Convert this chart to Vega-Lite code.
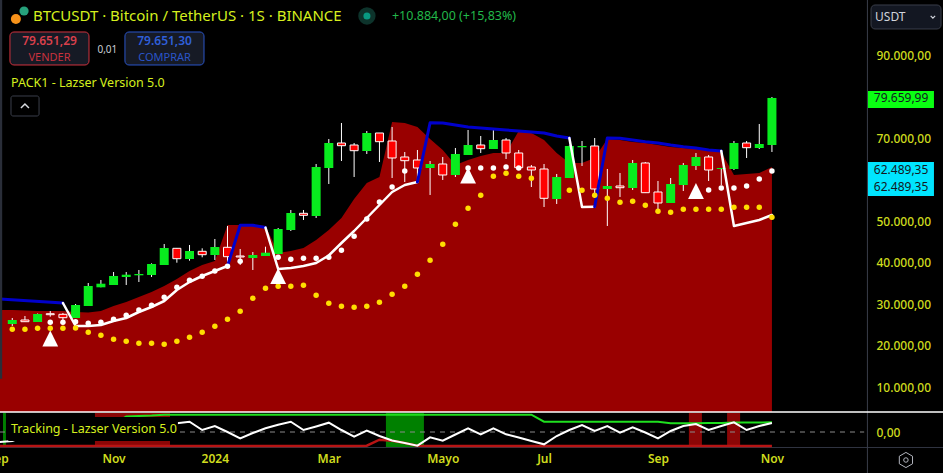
{
"$schema":"https://vega.github.io/schema/vega-lite/v6.json",
"width":943,"height":473,"padding":0,"autosize":{"type":"none"},"background":"#000000",
"config":{"view":{"stroke":null},"font":"Noto Sans"},
"datasets":{
"candles":[
{"date":"2023-09-11","open":25185,"high":26631,"low":24703,"close":26149},
{"date":"2023-09-18","open":26149,"high":27113,"low":25739,"close":25739},
{"date":"2023-09-25","open":25667,"high":27715,"low":25667,"close":27595},
{"date":"2023-10-02","open":27666,"high":28318,"low":26944,"close":27426},
{"date":"2023-10-09","open":27522,"high":27836,"low":26149,"close":26703},
{"date":"2023-10-16","open":26631,"high":30005,"low":26631,"close":29764},
{"date":"2023-10-23","open":29523,"high":35066,"low":29523,"close":34343},
{"date":"2023-10-30","open":34029,"high":35789,"low":34029,"close":34897},
{"date":"2023-11-06","open":34584,"high":37717,"low":34584,"close":36753},
{"date":"2023-11-13","open":36512,"high":37717,"low":34584,"close":37066},
{"date":"2023-11-20","open":36921,"high":38199,"low":35307,"close":37235},
{"date":"2023-11-27","open":36994,"high":39813,"low":36512,"close":39645},
{"date":"2023-12-04","open":39404,"high":44465,"low":39404,"close":43501},
{"date":"2023-12-11","open":43428,"high":43501,"low":39958,"close":40922},
{"date":"2023-12-18","open":40850,"high":44224,"low":40440,"close":42778},
{"date":"2023-12-25","open":42705,"high":43428,"low":41259,"close":41886},
{"date":"2024-01-01","open":41814,"high":45670,"low":40609,"close":43742},
{"date":"2024-01-08","open":43669,"high":48803,"low":39404,"close":41404},
{"date":"2024-01-15","open":41573,"high":43260,"low":39404,"close":41332},
{"date":"2024-01-22","open":41091,"high":42537,"low":38199,"close":41814},
{"date":"2024-01-29","open":41573,"high":43814,"low":41573,"close":42368},
{"date":"2024-02-05","open":42055,"high":48321,"low":42055,"close":48080},
{"date":"2024-02-12","open":47839,"high":52659,"low":47598,"close":51936},
{"date":"2024-02-19","open":51863,"high":52659,"low":50249,"close":51381},
{"date":"2024-02-26","open":51213,"high":63745,"low":50731,"close":63022},
{"date":"2024-03-04","open":62781,"high":69770,"low":58925,"close":68806},
{"date":"2024-03-11","open":68806,"high":73626,"low":64468,"close":68155},
{"date":"2024-03-18","open":68324,"high":68806,"low":60612,"close":66950},
{"date":"2024-03-25","open":66878,"high":71698,"low":66155,"close":71216},
{"date":"2024-04-01","open":71216,"high":71216,"low":64227,"close":69119},
{"date":"2024-04-08","open":69288,"high":72662,"low":60371,"close":65191},
{"date":"2024-04-15","open":65432,"high":66637,"low":59407,"close":64540},
{"date":"2024-04-22","open":64709,"high":67119,"low":59166,"close":62781},
{"date":"2024-04-29","open":62781,"high":64468,"low":56274,"close":63745},
{"date":"2024-05-06","open":63745,"high":65432,"low":59889,"close":61094},
{"date":"2024-05-13","open":61094,"high":67601,"low":60612,"close":66155},
{"date":"2024-05-20","open":65914,"high":71939,"low":65914,"close":68324},
{"date":"2024-05-27","open":68324,"high":70493,"low":66396,"close":67432},
{"date":"2024-06-03","open":67360,"high":71939,"low":67360,"close":69529},
{"date":"2024-06-10","open":69529,"high":70011,"low":64950,"close":66396},
{"date":"2024-06-17","open":66396,"high":67119,"low":62540,"close":62853},
{"date":"2024-06-24","open":63022,"high":63504,"low":58202,"close":62299},
{"date":"2024-07-01","open":62540,"high":63745,"low":53382,"close":55478},
{"date":"2024-07-08","open":55310,"high":61335,"low":54105,"close":60612},
{"date":"2024-07-15","open":60371,"high":68203,"low":60371,"close":68083},
{"date":"2024-07-22","open":67769,"high":69288,"low":63263,"close":68083},
{"date":"2024-07-29","open":68083,"high":70011,"low":55551,"close":57720},
{"date":"2024-08-05","open":57720,"high":62540,"low":48803,"close":58443},
{"date":"2024-08-12","open":58443,"high":61576,"low":55792,"close":58033},
{"date":"2024-08-19","open":57961,"high":64709,"low":57479,"close":63986},
{"date":"2024-08-26","open":63986,"high":64227,"low":56828,"close":56828},
{"date":"2024-09-02","open":56997,"high":59648,"low":51936,"close":54346},
{"date":"2024-09-09","open":54346,"high":60371,"low":54346,"close":58925},
{"date":"2024-09-16","open":58684,"high":63986,"low":57238,"close":63504},
{"date":"2024-09-23","open":63263,"high":66396,"low":62299,"close":65432},
{"date":"2024-09-30","open":65432,"high":65914,"low":59648,"close":62299},
{"date":"2024-10-07","open":62540,"high":62781,"low":58684,"close":62781},
{"date":"2024-10-14","open":62540,"high":69288,"low":62299,"close":68806},
{"date":"2024-10-21","open":68806,"high":69288,"low":65191,"close":67673},
{"date":"2024-10-28","open":67601,"high":73385,"low":67360,"close":68565},
{"date":"2024-11-04","open":68324,"high":79892,"low":66637,"close":79660}
],
"cloud":[
{"date":"2023-09-04","value":28559},{"date":"2023-09-11","value":28559},{"date":"2023-09-18","value":28438},{"date":"2023-09-25","value":28318},{"date":"2023-10-02","value":28318},{"date":"2023-10-09","value":28318},{"date":"2023-10-16","value":28077},{"date":"2023-10-23","value":27956},{"date":"2023-10-30","value":28318},{"date":"2023-11-06","value":29523},{"date":"2023-11-13","value":30487},{"date":"2023-11-20","value":31692},{"date":"2023-11-27","value":32897},{"date":"2023-12-04","value":34343},{"date":"2023-12-11","value":36030},{"date":"2023-12-18","value":37958},{"date":"2023-12-25","value":39404},{"date":"2024-01-01","value":40368},{"date":"2024-01-08","value":49044},{"date":"2024-01-15","value":49044},{"date":"2024-01-22","value":49044},{"date":"2024-01-29","value":48803},{"date":"2024-02-05","value":42296},{"date":"2024-02-12","value":42778},{"date":"2024-02-19","value":43501},{"date":"2024-02-26","value":45429},{"date":"2024-03-04","value":47839},{"date":"2024-03-11","value":50731},{"date":"2024-03-18","value":55310},{"date":"2024-03-25","value":59166},{"date":"2024-04-01","value":60612},{"date":"2024-04-08","value":73867},{"date":"2024-04-15","value":73626},{"date":"2024-04-22","value":72662},{"date":"2024-04-29","value":69770},{"date":"2024-05-06","value":67119},{"date":"2024-05-13","value":63504},{"date":"2024-05-20","value":64709},{"date":"2024-05-27","value":65673},{"date":"2024-06-03","value":66396},{"date":"2024-06-10","value":66396},{"date":"2024-06-17","value":71698},{"date":"2024-06-24","value":71216},{"date":"2024-07-01","value":69529},{"date":"2024-07-08","value":66396},{"date":"2024-07-15","value":63986},{"date":"2024-07-22","value":63986},{"date":"2024-07-29","value":65191},{"date":"2024-08-05","value":69770},{"date":"2024-08-12","value":69529},{"date":"2024-08-19","value":69047},{"date":"2024-08-26","value":68806},{"date":"2024-09-02","value":68324},{"date":"2024-09-09","value":67842},{"date":"2024-09-16","value":67601},{"date":"2024-09-23","value":67360},{"date":"2024-09-30","value":67119},{"date":"2024-10-07","value":66637},{"date":"2024-10-14","value":61094},{"date":"2024-10-21","value":61335},{"date":"2024-10-28","value":61576},{"date":"2024-11-04","value":63022}
],
"trail":[
{"seg":"b1","trend":"down","date":"2023-09-04","value":31210},{"seg":"b1","trend":"down","date":"2023-10-09","value":30246},
{"seg":"w1","trend":"up","date":"2023-10-09","value":30246},{"seg":"w1","trend":"up","date":"2023-10-16","value":24703},{"seg":"w1","trend":"up","date":"2023-10-23","value":24703},{"seg":"w1","trend":"up","date":"2023-10-30","value":24944},{"seg":"w1","trend":"up","date":"2023-11-06","value":25908},{"seg":"w1","trend":"up","date":"2023-11-13","value":26631},{"seg":"w1","trend":"up","date":"2023-11-20","value":28077},{"seg":"w1","trend":"up","date":"2023-11-27","value":29282},{"seg":"w1","trend":"up","date":"2023-12-04","value":30728},{"seg":"w1","trend":"up","date":"2023-12-11","value":33379},{"seg":"w1","trend":"up","date":"2023-12-18","value":35307},{"seg":"w1","trend":"up","date":"2023-12-25","value":36753},{"seg":"w1","trend":"up","date":"2024-01-01","value":37958},{"seg":"w1","trend":"up","date":"2024-01-08","value":39163},
{"seg":"b2","trend":"down","date":"2024-01-08","value":39163},{"seg":"b2","trend":"down","date":"2024-01-15","value":48971},{"seg":"b2","trend":"down","date":"2024-01-22","value":48971},{"seg":"b2","trend":"down","date":"2024-01-29","value":48417},
{"seg":"w2","trend":"up","date":"2024-01-29","value":48417},{"seg":"w2","trend":"up","date":"2024-02-05","value":38440},{"seg":"w2","trend":"up","date":"2024-02-12","value":38681},{"seg":"w2","trend":"up","date":"2024-02-19","value":39163},{"seg":"w2","trend":"up","date":"2024-02-26","value":39886},{"seg":"w2","trend":"up","date":"2024-03-04","value":41693},{"seg":"w2","trend":"up","date":"2024-03-11","value":44706},{"seg":"w2","trend":"up","date":"2024-03-18","value":47598},{"seg":"w2","trend":"up","date":"2024-03-25","value":50731},{"seg":"w2","trend":"up","date":"2024-04-01","value":53864},{"seg":"w2","trend":"up","date":"2024-04-08","value":56997},{"seg":"w2","trend":"up","date":"2024-04-15","value":58684},{"seg":"w2","trend":"up","date":"2024-04-22","value":59407},
{"seg":"b3","trend":"down","date":"2024-04-22","value":59407},{"seg":"b3","trend":"down","date":"2024-04-29","value":73698},{"seg":"b3","trend":"down","date":"2024-05-06","value":73626},{"seg":"b3","trend":"down","date":"2024-05-13","value":73144},{"seg":"b3","trend":"down","date":"2024-05-20","value":72662},{"seg":"b3","trend":"down","date":"2024-05-27","value":72421},{"seg":"b3","trend":"down","date":"2024-06-03","value":72180},{"seg":"b3","trend":"down","date":"2024-06-10","value":71939},{"seg":"b3","trend":"down","date":"2024-06-17","value":71698},{"seg":"b3","trend":"down","date":"2024-06-24","value":71457},{"seg":"b3","trend":"down","date":"2024-07-01","value":71216},{"seg":"b3","trend":"down","date":"2024-07-08","value":70493},{"seg":"b3","trend":"down","date":"2024-07-15","value":70011},
{"seg":"w3","trend":"up","date":"2024-07-15","value":70011},{"seg":"w3","trend":"up","date":"2024-07-22","value":53382},{"seg":"w3","trend":"up","date":"2024-07-29","value":53454},
{"seg":"b4","trend":"down","date":"2024-07-29","value":53454},{"seg":"b4","trend":"down","date":"2024-08-05","value":70011},{"seg":"b4","trend":"down","date":"2024-08-12","value":69939},{"seg":"b4","trend":"down","date":"2024-08-19","value":69529},{"seg":"b4","trend":"down","date":"2024-08-26","value":69119},{"seg":"b4","trend":"down","date":"2024-09-02","value":68806},{"seg":"b4","trend":"down","date":"2024-09-09","value":68324},{"seg":"b4","trend":"down","date":"2024-09-16","value":67914},{"seg":"b4","trend":"down","date":"2024-09-23","value":67601},{"seg":"b4","trend":"down","date":"2024-09-30","value":67119},{"seg":"b4","trend":"down","date":"2024-10-07","value":66878},
{"seg":"w4","trend":"up","date":"2024-10-07","value":66878},{"seg":"w4","trend":"up","date":"2024-10-14","value":48803},{"seg":"w4","trend":"up","date":"2024-10-21","value":49526},{"seg":"w4","trend":"up","date":"2024-10-28","value":50249},{"seg":"w4","trend":"up","date":"2024-11-04","value":51454}
],
"whiteDots":[
{"date":"2023-10-02","value":25594},{"date":"2023-10-09","value":25594},{"date":"2023-10-16","value":25739},{"date":"2023-10-23","value":25353},{"date":"2023-10-30","value":25594},{"date":"2023-11-06","value":26317},{"date":"2023-11-13","value":27281},{"date":"2023-11-20","value":28559},{"date":"2023-11-27","value":29691},{"date":"2023-12-04","value":31619},{"date":"2023-12-11","value":34029},{"date":"2023-12-18","value":35716},{"date":"2023-12-25","value":36680},{"date":"2024-01-01","value":37958},{"date":"2024-01-08","value":39090},{"date":"2024-01-15","value":40295},{"date":"2024-02-05","value":41259},{"date":"2024-02-12","value":40777},{"date":"2024-02-19","value":41018},{"date":"2024-02-26","value":41018},{"date":"2024-03-04","value":41259},{"date":"2024-03-11","value":42946},{"date":"2024-03-18","value":46320},{"date":"2024-03-25","value":50490},{"date":"2024-04-01","value":54587},{"date":"2024-04-08","value":58202},{"date":"2024-04-15","value":62058},{"date":"2024-05-20","value":62781},{"date":"2024-05-27","value":62781},{"date":"2024-06-03","value":62781},{"date":"2024-06-10","value":63022},{"date":"2024-06-17","value":62781},{"date":"2024-09-30","value":57479},{"date":"2024-10-07","value":57961},{"date":"2024-10-14","value":57961},{"date":"2024-10-21","value":58443},{"date":"2024-10-28","value":60130},{"date":"2024-11-04","value":62058}
],
"yellowDots":[
{"date":"2023-09-11","value":23907},{"date":"2023-09-18","value":23907},{"date":"2023-09-25","value":24148},{"date":"2023-10-02","value":24148},{"date":"2023-10-09","value":24148},{"date":"2023-10-16","value":24221},{"date":"2023-10-23","value":23184},{"date":"2023-10-30","value":22461},{"date":"2023-11-06","value":21497},{"date":"2023-11-13","value":21015},{"date":"2023-11-20","value":20533},{"date":"2023-11-27","value":20533},{"date":"2023-12-04","value":20292},{"date":"2023-12-11","value":21015},{"date":"2023-12-18","value":21979},{"date":"2023-12-25","value":23184},{"date":"2024-01-01","value":24630},{"date":"2024-01-08","value":26317},{"date":"2024-01-15","value":28245},{"date":"2024-01-22","value":31378},{"date":"2024-01-29","value":33788},{"date":"2024-02-05","value":34270},{"date":"2024-02-12","value":34270},{"date":"2024-02-19","value":34511},{"date":"2024-02-26","value":32101},{"date":"2024-03-04","value":30173},{"date":"2024-03-11","value":29450},{"date":"2024-03-18","value":29209},{"date":"2024-03-25","value":29450},{"date":"2024-04-01","value":30414},{"date":"2024-04-08","value":32342},{"date":"2024-04-15","value":34270},{"date":"2024-04-22","value":37162},{"date":"2024-04-29","value":40536},{"date":"2024-05-06","value":44392},{"date":"2024-05-13","value":49212},{"date":"2024-05-20","value":53068},{"date":"2024-05-27","value":56201},{"date":"2024-06-03","value":60780},{"date":"2024-06-10","value":61503},{"date":"2024-06-17","value":60780},{"date":"2024-06-24","value":60298},{"date":"2024-07-15","value":57406},{"date":"2024-07-22","value":57406},{"date":"2024-07-29","value":56201},{"date":"2024-08-05","value":55478},{"date":"2024-08-12","value":54514},{"date":"2024-08-19","value":54755},{"date":"2024-08-26","value":53791},{"date":"2024-09-02","value":52345},{"date":"2024-09-09","value":52104},{"date":"2024-09-16","value":52827},{"date":"2024-09-23","value":52827},{"date":"2024-09-30","value":52827},{"date":"2024-10-07","value":52827},{"date":"2024-10-14","value":53309},{"date":"2024-10-21","value":53309},{"date":"2024-10-28","value":53309},{"date":"2024-11-04","value":50899}
],
"signals":[
{"date":"2023-10-02","value":21690},{"date":"2024-02-05","value":36753},{"date":"2024-05-20","value":60973},{"date":"2024-09-23","value":57238}
],
"tracking":[
{"date":"2023-09-04","white":-50,"red":-70},{"date":"2023-09-11","white":-45,"red":-70},{"date":"2023-09-18","white":-20,"red":-70},{"date":"2023-09-25","white":0,"red":-70},{"date":"2023-10-02","white":10,"red":-70},{"date":"2023-10-09","white":-5,"red":-70},{"date":"2023-10-16","white":-10,"red":-70},{"date":"2023-10-23","white":-5,"red":-70},{"date":"2023-10-30","white":10,"red":-70},{"date":"2023-11-06","white":20,"red":-70,"green":40},{"date":"2023-11-13","white":30,"red":-70,"green":78},{"date":"2023-11-20","white":20,"red":-70,"green":80},{"date":"2023-11-27","white":25,"red":-70,"green":82},{"date":"2023-12-04","white":35,"red":-70,"green":86},{"date":"2023-12-11","white":43.5,"red":-70,"green":86.5},{"date":"2023-12-18","white":51.5,"red":-70,"green":86.5},{"date":"2023-12-25","white":10,"red":-70,"green":86.5},{"date":"2024-01-01","white":30,"red":-70,"green":86.5},{"date":"2024-01-08","white":0,"red":-70,"green":86.5},{"date":"2024-01-15","white":-31.5,"red":-70,"green":86.5},{"date":"2024-01-22","white":-5,"red":-70,"green":86.5},{"date":"2024-01-29","white":18.5,"red":-70,"green":86.5},{"date":"2024-02-05","white":36.5,"red":-70,"green":86.5},{"date":"2024-02-12","white":51.5,"red":-70,"green":86.5},{"date":"2024-02-19","white":10,"red":-70,"green":86.5},{"date":"2024-02-26","white":27.5,"red":-70,"green":86.5},{"date":"2024-03-04","white":46.5,"red":-70,"green":86.5},{"date":"2024-03-11","white":10,"red":-70,"green":86.5},{"date":"2024-03-18","white":-23.5,"red":-70,"green":86.5},{"date":"2024-03-25","white":6.5,"red":-68.5,"green":86.5},{"date":"2024-04-01","white":-20,"red":-38.5,"green":86.5},{"date":"2024-04-08","white":-42.5,"red":-43.5,"green":86.5},{"date":"2024-04-15","white":-55,"red":-55,"green":86.5},{"date":"2024-04-22","white":-68.5,"red":-68.5,"green":86.5},{"date":"2024-04-29","white":-26.5,"red":-70,"green":86.5},{"date":"2024-05-06","white":-43.5,"red":-70,"green":86.5},{"date":"2024-05-13","white":-12.5,"red":-70,"green":86.5},{"date":"2024-05-20","white":18.5,"red":-70,"green":86.5},{"date":"2024-05-27","white":-11.5,"red":-70,"green":86.5},{"date":"2024-06-03","white":18.5,"red":-70,"green":86.5},{"date":"2024-06-10","white":-11.5,"red":-70,"green":86.5},{"date":"2024-06-17","white":-27.5,"red":-70,"green":86.5},{"date":"2024-06-24","white":-45,"red":-70,"green":86.5},{"date":"2024-07-01","white":-61.5,"red":-70,"green":51.5},{"date":"2024-07-08","white":-20,"red":-70,"green":51.5},{"date":"2024-07-15","white":10,"red":-70,"green":51.5},{"date":"2024-07-22","white":35,"red":-70,"green":51.5},{"date":"2024-07-29","white":5,"red":-70,"green":51.5},{"date":"2024-08-05","white":30,"red":-70,"green":51.5},{"date":"2024-08-12","white":-3.5,"red":-70,"green":51.5},{"date":"2024-08-19","white":23.5,"red":-70,"green":51.5},{"date":"2024-08-26","white":-2.5,"red":-70,"green":51.5},{"date":"2024-09-02","white":-31.5,"red":-70,"green":51.5},{"date":"2024-09-09","white":5,"red":-70,"green":43.5},{"date":"2024-09-16","white":30,"red":-70,"green":43.5},{"date":"2024-09-23","white":40,"red":-70,"green":43.5},{"date":"2024-09-30","white":10,"red":-70,"green":45},{"date":"2024-10-07","white":30,"red":-70,"green":45},{"date":"2024-10-14","white":48.5,"red":-70,"green":47},{"date":"2024-10-21","white":10,"red":-70,"green":47},{"date":"2024-10-28","white":30,"red":-70,"green":47},{"date":"2024-11-04","white":45,"red":-70,"green":48.5}
],
"greenZones":[{"date":"2023-09-05T21:00:00Z","date2":"2023-09-07T12:00:00Z"},{"date":"2024-04-04T14:00:00Z","date2":"2024-04-25T14:00:00Z"}],
"redZones":[{"date":"2023-10-26T17:00:00Z","date2":"2023-12-07T05:00:00Z"},{"date":"2024-09-19T02:00:00Z","date2":"2024-09-26T07:00:00Z"},{"date":"2024-10-10T05:00:00Z","date2":"2024-10-17T10:00:00Z"}]
},
"encoding":{"x":{"field":"date","type":"temporal","title":null,
"scale":{"domain":["2023-09-03T00:00:00Z","2025-02-06T14:00:00Z"],"range":[-2.19,943],"padding":0},
"axis":{"orient":"bottom","offset":-26,"title":null,"grid":false,"ticks":false,"domain":true,"domainColor":"#2f3340","labelColor":"#cfdc1e","labelFont":"Noto Sans","labelFontSize":12,"labelFontWeight":600,"labelPadding":6,"labelOverlap":false,"labelFlush":false,"labelBound":false,"values":["2023-09-03T00:00:00Z","2023-11-06T00:00:00Z","2024-01-01T00:00:00Z","2024-03-04T00:00:00Z","2024-05-06T00:00:00Z","2024-07-01T00:00:00Z","2024-09-02T00:00:00Z","2024-11-04T00:00:00Z"],"labelExpr":"{'8':'Sep','10':'Nov','0':'2024','2':'Mar','4':'Mayo','6':'Jul'}[utcmonth(datum.value)]"}}},
"layer":[
{"layer":[
{"data":{"name":"cloud"},"mark":{"type":"area","color":"#990000","interpolate":"linear"},
 "encoding":{"y":{"field":"value","type":"quantitative","title":null,"scale":{"domain":[3976.5,103268.5],"range":[412,0],"nice":false,"zero":false},
  "axis":{"orient":"right","offset":-76,"title":null,"grid":false,"ticks":false,"domain":false,"labelColor":"#cfdc1e","labelFont":"Noto Sans","labelFontSize":12,"labelFontWeight":500,"labelPadding":9,"labelOverlap":false,"values":[10000,20000,30000,40000,50000,70000,90000],"labelExpr":"replace(replace(replace(format(datum.value,',.2f'),',','#'),'.',','),'#','.')"}},
  "y2":{"datum":3976.5}}},
{"data":{"name":"candles"},"mark":{"type":"rule","color":"#ffffff","strokeWidth":1},"encoding":{"y":{"field":"low","type":"quantitative","title":null},"y2":{"field":"high"}}},
{"data":{"name":"candles"},"transform":[{"filter":"datum.close>=datum.open"}],"mark":{"type":"bar","size":9,"color":"#08ec1e"},"encoding":{"y":{"field":"open","type":"quantitative","title":null},"y2":{"field":"close"}}},
{"data":{"name":"candles"},"transform":[{"filter":"datum.close<datum.open"}],"mark":{"type":"bar","size":8,"color":"#ff0000","stroke":"#ffffff","strokeWidth":1},"encoding":{"y":{"field":"open","type":"quantitative","title":null},"y2":{"field":"close"}}},
{"data":{"name":"trail"},"mark":{"type":"line","strokeCap":"round","strokeJoin":"round"},"encoding":{"y":{"field":"value","type":"quantitative","title":null},"detail":{"field":"seg"},"strokeWidth":{"field":"trend","type":"nominal","legend":null,"scale":{"domain":["down","up"],"range":[3,2.5]}},"color":{"field":"trend","type":"nominal","legend":null,"scale":{"domain":["down","up"],"range":["#0000cc","#ffffff"]}}}},
{"data":{"name":"yellowDots"},"mark":{"type":"circle","size":30,"color":"#ffdd00","opacity":1},"encoding":{"y":{"field":"value","type":"quantitative","title":null}}},
{"data":{"name":"whiteDots"},"mark":{"type":"circle","size":30,"color":"#ffffff","opacity":1},"encoding":{"y":{"field":"value","type":"quantitative","title":null}}},
{"data":{"name":"signals"},"mark":{"type":"point","shape":"M0,-1L-1,1L1,1Z","size":250,"filled":true,"color":"#ffffff","opacity":1},"encoding":{"y":{"field":"value","type":"quantitative","title":null}}},
{"data":{"values":[{"date":"2024-12-26T19:00:00Z"}]},"mark":{"type":"rule","color":"#3a3e4a","strokeWidth":1},"encoding":{}},
{"data":{"values":[{"date":"2023-09-04T05:00:00Z","date2":"2025-02-06T14:00:00Z","value":3976.5}]},"mark":{"type":"rule","color":"#ffffff","strokeWidth":1.5},"encoding":{"x2":{"field":"date2"},"y":{"field":"value","type":"quantitative","title":null}}},
{"data":{"values":[{"date":"2023-09-04T05:00:00Z","date2":"2023-09-05T10:00:00Z","value":103268,"value2":12000}]},"mark":{"type":"rect","color":"#2a2e39"},"encoding":{"x2":{"field":"date2"},"y":{"field":"value","type":"quantitative","title":null},"y2":{"field":"value2"}}},
{"data":{"values":[{"date":"2023-09-17T12:00:00Z","value":100618}]},"mark":{"type":"circle","size":85,"color":"#26a17b","opacity":1},"encoding":{"y":{"field":"value","type":"quantitative","title":null}}},
{"data":{"values":[{"date":"2023-09-13T00:00:00Z","value":98690}]},"mark":{"type":"circle","size":100,"color":"#f7931a","opacity":1},"encoding":{"y":{"field":"value","type":"quantitative","title":null}}},
{"data":{"values":[{"date":"2024-03-25T02:00:00Z","value":99413}]},"mark":{"type":"circle","size":300,"color":"#0d332b","opacity":1},"encoding":{"y":{"field":"value","type":"quantitative","title":null}}},
{"data":{"values":[{"date":"2024-03-25T02:00:00Z","value":99413}]},"mark":{"type":"circle","size":50,"color":"#089981","opacity":1},"encoding":{"y":{"field":"value","type":"quantitative","title":null}}},
{"data":{"values":[{"date":"2023-09-22T10:00:00Z","value":99413,"label":"BTCUSDT · Bitcoin / TetherUS · 1S · BINANCE"}]},"mark":{"type":"text","align":"left","baseline":"middle","font":"Noto Sans","fontSize":15,"color":"#d6f01e"},"encoding":{"y":{"field":"value","type":"quantitative","title":null},"text":{"field":"label"}}},
{"data":{"values":[{"date":"2024-04-07T22:00:00Z","value":99413,"label":"+10.884,00 (+15,83%)"}]},"mark":{"type":"text","align":"left","baseline":"middle","font":"Noto Sans","fontSize":12.5,"color":"#22b84a"},"encoding":{"y":{"field":"value","type":"quantitative","title":null},"text":{"field":"label"}}},
{"data":{"values":[{"date":"2023-09-09T17:00:00Z","date2":"2023-10-23T10:00:00Z","value":95557,"value2":87604}]},"mark":{"type":"rect","fill":"#161a25","stroke":"#d0333f","strokeWidth":1,"cornerRadius":4},"encoding":{"x2":{"field":"date2"},"y":{"field":"value","type":"quantitative","title":null},"y2":{"field":"value2"}}},
{"data":{"values":[{"date":"2023-11-12T07:00:00Z","date2":"2023-12-26T00:00:00Z","value":95557,"value2":87604}]},"mark":{"type":"rect","fill":"#161a25","stroke":"#2a55c8","strokeWidth":1,"cornerRadius":4},"encoding":{"x2":{"field":"date2"},"y":{"field":"value","type":"quantitative","title":null},"y2":{"field":"value2"}}},
{"data":{"values":[{"date":"2023-10-01T14:00:00Z","value":93388,"label":"79.651,29"}]},"mark":{"type":"text","align":"center","baseline":"middle","font":"Noto Sans","fontSize":12,"fontWeight":600,"color":"#d9404c"},"encoding":{"y":{"field":"value","type":"quantitative","title":null},"text":{"field":"label"}}},
{"data":{"values":[{"date":"2023-10-01T14:00:00Z","value":89411,"label":"VENDER"}]},"mark":{"type":"text","align":"center","baseline":"middle","font":"Noto Sans","fontSize":11,"color":"#c8323e"},"encoding":{"y":{"field":"value","type":"quantitative","title":null},"text":{"field":"label"}}},
{"data":{"values":[{"date":"2023-12-04T05:00:00Z","value":93388,"label":"79.651,30"}]},"mark":{"type":"text","align":"center","baseline":"middle","font":"Noto Sans","fontSize":12,"fontWeight":600,"color":"#2f5fd8"},"encoding":{"y":{"field":"value","type":"quantitative","title":null},"text":{"field":"label"}}},
{"data":{"values":[{"date":"2023-12-04T05:00:00Z","value":89411,"label":"COMPRAR"}]},"mark":{"type":"text","align":"center","baseline":"middle","font":"Noto Sans","fontSize":11,"color":"#2a55c8"},"encoding":{"y":{"field":"value","type":"quantitative","title":null},"text":{"field":"label"}}},
{"data":{"values":[{"date":"2023-11-02T14:00:00Z","value":91218,"label":"0,01"}]},"mark":{"type":"text","align":"center","baseline":"middle","font":"Noto Sans","fontSize":10,"color":"#c8ccd4"},"encoding":{"y":{"field":"value","type":"quantitative","title":null},"text":{"field":"label"}}},
{"data":{"values":[{"date":"2023-09-10T07:00:00Z","value":83265,"label":"PACK1 - Lazser Version 5.0"}]},"mark":{"type":"text","align":"left","baseline":"middle","font":"Noto Sans","fontSize":12.5,"color":"#d6f01e"},"encoding":{"y":{"field":"value","type":"quantitative","title":null},"text":{"field":"label"}}},
{"data":{"values":[{"date":"2023-09-10T07:00:00Z","date2":"2023-09-25T19:00:00Z","value":80133,"value2":75313}]},"mark":{"type":"rect","fill":"#000000","stroke":"#3a3e4a","strokeWidth":1,"cornerRadius":2},"encoding":{"x2":{"field":"date2"},"y":{"field":"value","type":"quantitative","title":null},"y2":{"field":"value2"}}},
{"data":{"values":[{"date":"2023-09-18T00:00:00Z","value":77722}]},"mark":{"type":"point","shape":"M-1,0.5L0,-0.5L1,0.5","size":64,"filled":false,"stroke":"#d8dbe0","strokeWidth":1.5,"opacity":1},"encoding":{"y":{"field":"value","type":"quantitative","title":null}}},
{"data":{"values":[{"date":"2024-12-28T19:00:00Z","date2":"2025-02-05T12:00:00Z","value":102064,"value2":96285}]},"mark":{"type":"rect","fill":"#131722","stroke":"#3a3e4a","strokeWidth":1,"cornerRadius":4},"encoding":{"x2":{"field":"date2"},"y":{"field":"value","type":"quantitative","title":null},"y2":{"field":"value2"}}},
{"data":{"values":[{"date":"2024-12-31T00:00:00Z","value":99172,"label":"USDT"}]},"mark":{"type":"text","align":"left","baseline":"middle","font":"Noto Sans","fontSize":12,"color":"#d1d4dc"},"encoding":{"y":{"field":"value","type":"quantitative","title":null},"text":{"field":"label"}}},
{"data":{"values":[{"date":"2025-02-01T00:00:00Z","value":99172}]},"mark":{"type":"point","shape":"M-1,-0.5L0,0.5L1,-0.5","size":20,"filled":false,"stroke":"#d1d4dc","strokeWidth":1.2,"opacity":1},"encoding":{"y":{"field":"value","type":"quantitative","title":null}}},
{"data":{"values":[{"date":"2024-12-27T02:00:00Z","date2":"2025-02-01T14:00:00Z","value":81338,"value2":77241}]},"mark":{"type":"rect","color":"#0aff12"},"encoding":{"x2":{"field":"date2"},"y":{"field":"value","type":"quantitative","title":null},"y2":{"field":"value2"}}},
{"data":{"values":[{"date":"2024-12-27T02:00:00Z","date2":"2025-02-01T14:00:00Z","value":64229,"value2":56033}]},"mark":{"type":"rect","color":"#00e5ff"},"encoding":{"x2":{"field":"date2"},"y":{"field":"value","type":"quantitative","title":null},"y2":{"field":"value2"}}},
{"data":{"values":[{"date":"2025-01-14T10:00:00Z","value":79660,"label":"79.659,99"},{"date":"2025-01-14T10:00:00Z","value":62299,"label":"62.489,35"},{"date":"2025-01-14T10:00:00Z","value":58202,"label":"62.489,35"}]},"mark":{"type":"text","align":"center","baseline":"middle","font":"Noto Sans","fontSize":12,"color":"#131722"},"encoding":{"y":{"field":"value","type":"quantitative","title":null},"text":{"field":"label"}}}
]},
{"layer":[
{"data":{"name":"greenZones"},"mark":{"type":"rect","color":"#008000"},"encoding":{"x2":{"field":"date2"},
 "y":{"datum":95,"type":"quantitative","title":null,"scale":{"domain":[-75,95],"range":[447,413],"nice":false,"zero":false},
 "axis":{"orient":"right","offset":-76,"title":null,"grid":false,"ticks":false,"domain":false,"labelColor":"#cfdc1e","labelFont":"Noto Sans","labelFontSize":12,"labelFontWeight":500,"labelPadding":9,"values":[0],"labelExpr":"'0,00'"}},"y2":{"datum":-75}}},
{"data":{"name":"redZones"},"mark":{"type":"rect","color":"#8c0606"},"encoding":{"x2":{"field":"date2"},"y":{"datum":95,"type":"quantitative","title":null},"y2":{"datum":-75}}},
{"data":{"values":[{"date":"2023-09-04T05:00:00Z","date2":"2024-12-25T00:00:00Z","value":0}]},"mark":{"type":"rule","color":"#8a8a8a","strokeWidth":1,"strokeDash":[5,5]},"encoding":{"x2":{"field":"date2"},"y":{"field":"value","type":"quantitative","title":null}}},
{"data":{"name":"tracking"},"mark":{"type":"line","color":"#b81414","strokeWidth":2.5},"encoding":{"y":{"field":"red","type":"quantitative","title":null}}},
{"data":{"name":"tracking"},"transform":[{"filter":"isValid(datum.green)"}],"mark":{"type":"line","color":"#1fe01f","strokeWidth":2},"encoding":{"y":{"field":"green","type":"quantitative","title":null}}},
{"data":{"name":"tracking"},"mark":{"type":"line","color":"#ffffff","strokeWidth":2},"encoding":{"y":{"field":"white","type":"quantitative","title":null}}},
{"data":{"values":[{"date":"2023-09-08T19:00:00Z","date2":"2023-12-11T14:00:00Z","value":75,"value2":-45}]},"mark":{"type":"rect","color":"#000000"},"encoding":{"x2":{"field":"date2"},"y":{"field":"value","type":"quantitative","title":null},"y2":{"field":"value2"}}},
{"data":{"values":[{"date":"2023-09-10T07:00:00Z","value":15,"label":"Tracking - Lazser Version 5.0"}]},"mark":{"type":"text","align":"left","baseline":"middle","font":"Noto Sans","fontSize":12.5,"color":"#d6f01e"},"encoding":{"y":{"field":"value","type":"quantitative","title":null},"text":{"field":"label"}}},
{"data":{"values":[{"date":"2025-01-17T02:00:00Z","value":-140}]},"mark":{"type":"point","shape":"M0,-1L0.87,-0.5L0.87,0.5L0,1L-0.87,0.5L-0.87,-0.5Z","size":230,"filled":false,"stroke":"#b2b5be","strokeWidth":1,"opacity":1},"encoding":{"y":{"field":"value","type":"quantitative","title":null}}},
{"data":{"values":[{"date":"2025-01-17T02:00:00Z","value":-140}]},"mark":{"type":"circle","size":20,"color":"#000000","stroke":"#b2b5be","strokeWidth":1,"opacity":1},"encoding":{"y":{"field":"value","type":"quantitative","title":null}}}
]}
],
"resolve":{"scale":{"y":"independent"},"axis":{"y":"independent"}}
}
